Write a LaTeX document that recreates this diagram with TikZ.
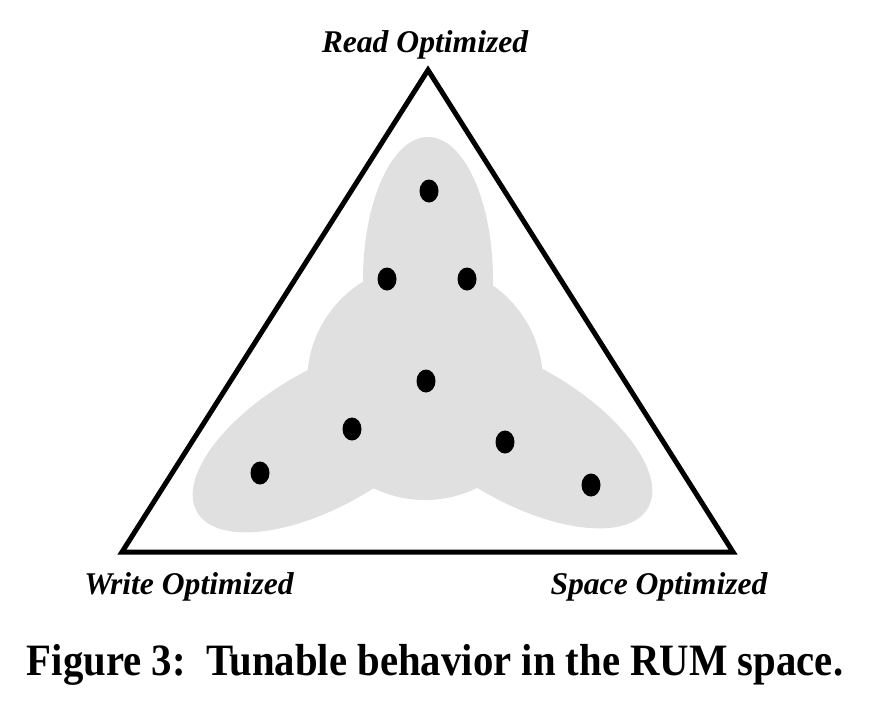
\documentclass[tikz,border=0pt]{standalone}
\usepackage{fontspec}
\setmainfont{Liberation Serif}
\usetikzlibrary{shapes.geometric,positioning}
\definecolor{lobegray}{rgb}{0.88,0.88,0.88}

\begin{document}
\begin{tikzpicture}[
  x=0.02cm, y=-0.02cm,
  lobe/.style={fill=lobegray},
  spot/.style={ellipse, fill=black, inner sep=0pt,
               minimum width=0.38cm, minimum height=0.46cm},
  rumedge/.style={line width=0.1cm, line join=miter},
  lbl/.style={font=\fontsize{18}{20}\selectfont\bfseries\itshape, inner sep=0pt},
  captext/.style={font=\fontsize{23.2}{26}\selectfont\bfseries, inner sep=0pt}
]
  \useasboundingbox (0,0) rectangle (874,708);

  % Lobes of the tunable region
  \fill[lobe] (428,280) ellipse [x radius=65, y radius=143];
  \fill[lobe] (327,437) ellipse [x radius=150, y radius=68, rotate=30];
  \fill[lobe] (518,433) ellipse [x radius=150, y radius=68, rotate=-30];
  \fill[lobe] (425,382) circle [radius=118];

  % RUM triangle
  \coordinate (R) at (428,70);
  \coordinate (W) at (122,552);
  \coordinate (S) at (733,552);
  \draw[rumedge] (R) -- (W) -- (S) -- cycle;

  % Corner labels
  \node[lbl, anchor=base] (rlbl) at (425,52) {Read Optimized};
  \node[lbl, anchor=base] (wlbl) at (189,594) {Write Optimized};
  \node[lbl, anchor=base] (slbl) at (659,594) {Space Optimized};

  % Designs
  \node[spot] (d1) at (429,191) {};
  \node[spot] (d2) at (387,279) {};
  \node[spot] (d3) at (467,279) {};
  \node[spot] (d4) at (426,381) {};
  \node[spot] (d5) at (352,429) {};
  \node[spot] (d6) at (505,442) {};
  \node[spot] (d7) at (260,473) {};
  \node[spot] (d8) at (591,485) {};

  % Caption
  \node[captext, anchor=base] (caption) at (435,675)
       {\scalebox{1}[1.1]{Figure 3:\ \ Tunable behavior in the RUM space.}};
\end{tikzpicture}
\end{document}
